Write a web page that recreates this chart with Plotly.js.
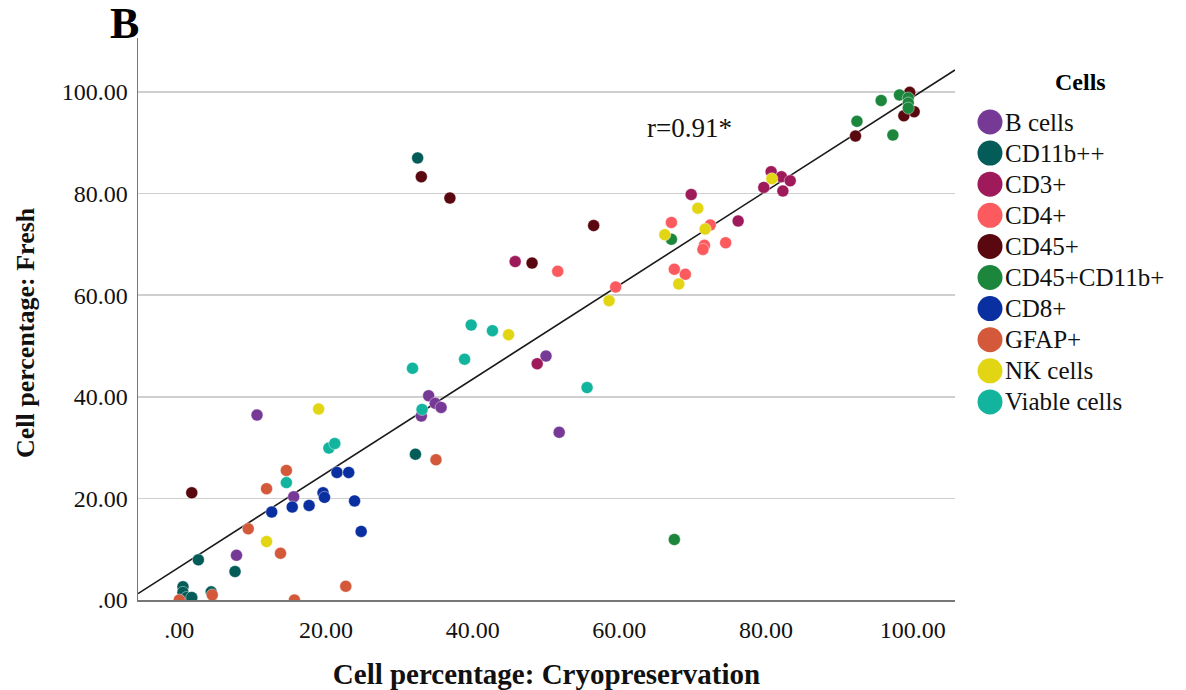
<!DOCTYPE html>
<html>
<head>
<meta charset="utf-8">
<script src="https://cdn.plot.ly/plotly-3.0.1.min.js"></script>
<style>html,body{margin:0;padding:0;background:#fff;}#chart{width:1186px;height:690px;}</style>
</head>
<body>
<div id="chart"></div>
<script>
// ---- Data ----
const categories = ["B cells","CD11b++","CD3+","CD4+","CD45+","CD45+CD11b+","CD8+","GFAP+","NK cells","Viable cells"];
const colors = ["#763a96","#045c58","#9e1a5a","#fb5a5f","#5a0810","#1d863d","#0a2fa0","#d4593a","#e2d614","#13b49d"];

const bCellsX = [10.6,15.6,7.8,34.0,34.9,35.7,33.0,50.0,51.8];
const bCellsY = [36.4,20.3,8.8,40.2,38.7,37.9,36.2,48.0,33.0];
const cd11bX = [2.6,7.6,0.5,0.5,1.0,1.7,4.35,32.2,32.5];
const cd11bY = [7.9,5.6,2.6,1.5,0.5,0.5,1.6,28.7,87.0];
const cd3X = [48.8,45.8,80.7,82.1,83.3,79.7,82.3,69.8,76.2];
const cd3Y = [46.5,66.6,84.3,83.3,82.5,81.2,80.5,79.8,74.6];
const cd4X = [59.5,51.6,67.1,72.4,74.5,71.6,71.4,67.5,69.0];
const cd4Y = [61.6,64.7,74.3,73.8,70.3,69.8,69.0,65.1,64.1];
const cd45X = [1.7,33.0,36.9,56.5,48.1,99.6,100.2,98.8,92.2];
const cd45Y = [21.1,83.3,79.1,73.7,66.3,99.9,96.1,95.3,91.3];
const cd45cd11bX = [95.7,98.2,99.4,99.4,99.4,92.4,97.3,67.1,67.5];
const cd45cd11bY = [98.3,99.4,98.8,97.8,96.8,94.2,91.5,71.0,11.9];
const cd8X = [21.5,23.1,19.6,19.8,23.9,17.7,15.4,12.6,24.8];
const cd8Y = [25.1,25.1,21.1,20.2,19.5,18.6,18.3,17.3,13.5];
const gfapX = [14.6,11.9,9.4,13.8,22.7,0.0,4.5,15.7,35.0];
const gfapY = [25.5,21.9,14.0,9.2,2.7,0.0,1.0,0.0,27.6];
const nkX = [19.0,11.9,58.6,44.9,80.8,70.7,71.7,66.2,68.1];
const nkY = [37.6,11.5,58.9,52.2,82.9,77.1,73.0,71.9,62.2];
const viableX = [20.4,21.2,14.6,39.8,42.7,38.9,31.8,55.6,33.1];
const viableY = [29.9,30.8,23.1,54.1,53.0,47.4,45.6,41.8,37.5];

const seriesX = [bCellsX,cd11bX,cd3X,cd4X,cd45X,cd45cd11bX,cd8X,gfapX,nkX,viableX];
const seriesY = [bCellsY,cd11bY,cd3Y,cd4Y,cd45Y,cd45cd11bY,cd8Y,gfapY,nkY,viableY];

const fitSlope = 0.925;
const fitIntercept = 6.47;
const rLabel = "r=0.91*";

const tickVals = [0,20,40,60,80,100];
const tickText = [".00","20.00","40.00","60.00","80.00","100.00"];

// ---- Build ----
const serif = "Liberation Serif";
const xRange = [-5.63, 105.77];
const yRange = [0, 110.6];

const traces = [];
traces.push({
  type:"scatter", mode:"lines",
  x:[xRange[0], xRange[1]],
  y:[fitIntercept + fitSlope*xRange[0], fitIntercept + fitSlope*xRange[1]],
  line:{color:"#1a1a1a", width:1.6},
  hoverinfo:"skip", showlegend:false, cliponaxis:true
});
categories.forEach((c,i)=>{
  traces.push({
    type:"scatter", mode:"markers", name:c,
    x:seriesX[i], y:seriesY[i],
    marker:{color:colors[i], size:12, line:{width:0.6, color:"rgba(255,255,255,0.7)"}},
    showlegend:false, cliponaxis:true
  });
});
// custom legend on a second axis pair
const legY = categories.map((c,i)=> 84 + i*31.1);
const legX = categories.map(()=> 15);
traces.push({
  type:"scatter", mode:"markers", xaxis:"x2", yaxis:"y2",
  x:legX, y:legY,
  marker:{color:colors, size:25}, showlegend:false, hoverinfo:"skip", cliponaxis:false
});
const legendLabels = categories.map((c,i)=>({
  xref:"x2", yref:"y2", x:28, y:legY[i], xanchor:"left", yanchor:"middle",
  text:c, showarrow:false, font:{family:serif, size:25, color:"#111"}
}));

const plotW = 1186-138;
const layout = {
  width:1186, height:690,
  margin:{l:138, r:0, t:38, b:90},
  paper_bgcolor:"#fff", plot_bgcolor:"#fff",
  showlegend:false,
  font:{family:serif, color:"#111"},
  xaxis:{
    domain:[0,(955-138)/plotW], range:xRange,
    showgrid:false, zeroline:false, showline:true, linecolor:"#777", linewidth:1.5,
    tickvals:tickVals, ticktext:tickText, ticks:"", ticklabelstandoff:8,
    tickfont:{family:serif, size:24, color:"#111"},
    title:{text:"<b>Cell percentage: Cryopreservation</b>", font:{family:serif, size:29, color:"#111"}, standoff:23}
  },
  yaxis:{
    range:yRange, showgrid:true, gridcolor:"#cfcfcf", gridwidth:1.5,
    zeroline:false, showline:true, linecolor:"#777", linewidth:1.5,
    tickvals:tickVals, ticktext:tickText, ticks:"", ticklabelstandoff:4,
    tickfont:{family:serif, size:24, color:"#111"}
  },
  xaxis2:{domain:[(975-138)/plotW,1], range:[0,211], visible:false, fixedrange:true},
  yaxis2:{domain:[0,1], range:[562,0], visible:false, anchor:"x2", fixedrange:true},
  annotations:[
    {xref:"x", yref:"y", x:69.6, y:92.9, text:rLabel, showarrow:false,
     font:{family:serif, size:27, color:"#111"}},
    {xref:"paper", yref:"paper", x:(124-138)/plotW, y:(600-24)/562, xanchor:"center", yanchor:"middle",
     text:"<b>B</b>", showarrow:false, font:{family:serif, size:44, color:"#000"}},
    {xref:"paper", yref:"paper", x:(25-138)/plotW, y:(600-333)/562, xanchor:"center", yanchor:"middle",
     text:"<b>Cell percentage: Fresh</b>", textangle:-90, showarrow:false,
     font:{family:serif, size:26, color:"#111"}},
    {xref:"x2", yref:"y2", x:105, y:44, text:"<b>Cells</b>", showarrow:false,
     font:{family:serif, size:24, color:"#000"}}
  ].concat(legendLabels)
};
Plotly.newPlot("chart", traces, layout, {displayModeBar:false, staticPlot:true});
</script>
</body>
</html>
